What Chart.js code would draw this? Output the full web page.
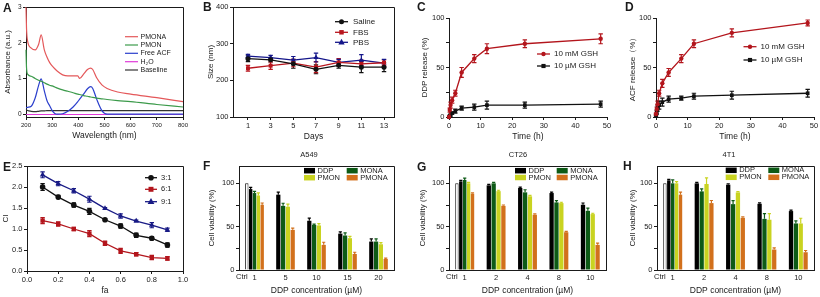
<!DOCTYPE html>
<html>
<head>
<meta charset="utf-8">
<title>Figure</title>
<script src="https://cdn.jsdelivr.net/npm/chart.js@4.4.0/dist/chart.umd.min.js"></script>
<style>
  html, body { margin: 0; padding: 0; background: #fff; }
  #fig { position: relative; width: 820px; height: 297px; overflow: hidden; background: #fff; }
  #fig canvas { position: absolute; }
</style>
</head>
<body>
<div id="fig">
  <canvas id="cA" width="200" height="148" style="left:0px;top:0px"></canvas>
  <canvas id="cB" width="205" height="148" style="left:200px;top:0px"></canvas>
  <canvas id="cC" width="210" height="148" style="left:405px;top:0px"></canvas>
  <canvas id="cD" width="210" height="148" style="left:610px;top:0px"></canvas>
  <canvas id="cE" width="200" height="149" style="left:0px;top:148px"></canvas>
  <canvas id="cF" width="205" height="149" style="left:200px;top:148px"></canvas>
  <canvas id="cG" width="205" height="149" style="left:405px;top:148px"></canvas>
  <canvas id="cH" width="210" height="149" style="left:610px;top:148px"></canvas>
</div>
<script>
// A - absorbance spectra
const wlA = [200, 202, 206, 220, 235, 248, 258, 270, 280, 290, 300, 310, 320, 340, 360, 380, 398, 405, 420, 435, 447, 455, 470, 490, 510, 550, 600, 700, 800];
const absPMONA = [3.0, 2.4, 2.05, 1.85, 1.8, 1.95, 2.22, 1.8, 1.6, 1.45, 1.35, 1.27, 1.2, 1.1, 1.07, 1.07, 1.07, 1.0, 1.12, 1.25, 1.29, 1.25, 1.02, 0.82, 0.72, 0.62, 0.56, 0.46, 0.35];
const absPMON = [1.8, 1.3, 1.12, 1.06, 1.0, 0.95, 0.92, 0.88, 0.84, 0.81, 0.79, 0.76, 0.73, 0.68, 0.64, 0.6, 0.56, 0.55, 0.52, 0.5, 0.48, 0.47, 0.45, 0.43, 0.41, 0.38, 0.35, 0.27, 0.2];
const absACF = [0.18, 0.18, 0.19, 0.22, 0.45, 0.8, 0.99, 0.65, 0.38, 0.24, 0.1, 0.02, 0.0, 0.01, 0.08, 0.2, 0.35, 0.42, 0.56, 0.71, 0.77, 0.72, 0.42, 0.1, 0.0, 0.0, 0.0, 0.0, 0.0];
const absH2O = [-0.01, -0.01, -0.01, -0.01, -0.01, -0.01, -0.01, -0.01, -0.01, -0.01, -0.01, -0.01, -0.01, -0.01, -0.01, -0.01, -0.01, -0.01, -0.01, -0.01, -0.01, -0.01, -0.01, -0.01, -0.01, -0.01, -0.01, -0.01, -0.01];
const absBase = [0.13, 0.12, 0.1, 0.08, 0.07, 0.08, 0.09, 0.09, 0.1, 0.1, 0.1, 0.1, 0.1, 0.1, 0.1, 0.1, 0.1, 0.1, 0.1, 0.1, 0.1, 0.1, 0.1, 0.1, 0.1, 0.1, 0.1, 0.1, 0.1];
const ticksAx = [200, 300, 400, 500, 600, 700, 800];
const ticksAy = [0, 1, 2, 3];

// B - size stability
const daysB = [1, 3, 5, 7, 9, 11, 13];
const sizeSaline = [259, 256, 245, 230, 241, 236, 236];
const errSaline = [8, 6, 12, 12, 8, 15, 12];
const sizeFBS = [233, 240, 247, 236, 249, 245, 248];
const errFBS = [8, 10, 10, 15, 10, 10, 8];
const sizePBS = [266, 262, 255, 262, 249, 255, 247];
const errPBS = [5, 6, 10, 12, 8, 15, 10];
const ticksBy = [100, 200, 300, 400];

// C, D - release
const timeCD = [0, 0.25, 0.5, 1, 2, 4, 8, 12, 24, 48];
const ddpHigh = [0, 7, 12, 17, 24, 45, 59, 69, 74, 79];
const errDdpHigh = [0, 2, 3, 3, 3, 5, 4, 5, 4, 5];
const ddpLow = [0, 1, 2, 4, 6, 9, 10, 12, 12, 13];
const errDdpLow = [0, 1, 1, 1, 2, 2, 3, 4, 3, 3];
const acfHigh = [3, 8, 13, 24, 34, 45, 59, 74, 85, 95];
const errAcfHigh = [1, 2, 3, 3, 4, 4, 4, 4, 4, 3];
const acfLow = [1, 5, 9, 12, 15, 18, 19, 21, 22, 24];
const errAcfLow = [1, 2, 3, 4, 4, 3, 2, 3, 4, 4];
const ticksTime = [0, 10, 20, 30, 40, 50];
const ticksPct = [0, 25, 50, 75, 100];

// E - combination index
const faE = [0.1, 0.2, 0.3, 0.4, 0.5, 0.6, 0.7, 0.8, 0.9];
const ci31 = [2.0, 1.76, 1.57, 1.42, 1.22, 1.07, 0.85, 0.78, 0.62];
const errCi31 = [0.08, 0.04, 0.05, 0.07, 0.02, 0.05, 0.05, 0.04, 0.05];
const ci61 = [1.2, 1.12, 1.0, 0.89, 0.66, 0.48, 0.4, 0.32, 0.3];
const errCi61 = [0.07, 0.05, 0.04, 0.07, 0.05, 0.06, 0.04, 0.05, 0.04];
const ci91 = [2.29, 2.08, 1.91, 1.71, 1.49, 1.31, 1.19, 1.09, 0.98];
const errCi91 = [0.07, 0.05, 0.05, 0.07, 0.02, 0.05, 0.02, 0.06, 0.04];
const ticksEx = [0, 0.2, 0.4, 0.6, 0.8, 1.0];
const ticksEy = [0, 0.5, 1.0, 1.5, 2.0, 2.5];

// F - A549 viability
const concF = ['1', '5', '10', '15', '20'];
const ctrlF = [100, null, null, null, null];
const ddpF = [93.4, 86.9, 56.8, 42, 32.8];
const errDdpF = [2, 3, 3, 2, 3];
const monaF = [88.8, 74, 52, 39.8, 32.8];
const errMonaF = [2, 3, 1, 3, 3];
const pmonF = [86, 73, 51.4, 36.7, 29.7];
const errPmonF = [3, 3, 2, 2, 2];
const pmonaF = [75.3, 46.3, 29, 18.5, 12.7];
const errPmonaF = [2, 2, 3, 2, 1];

// G - CT26 viability
const concG = ['1', '2', '4', '8', '10'];
const ctrlG = [100, null, null, null, null];
const ddpG = [102.3, 97.7, 94.6, 88.8, 75.3];
const errDdpG = [1, 1, 1, 1, 2];
const monaG = [103.9, 100, 89.6, 78, 68.3];
const errMonaG = [2, 1, 3, 2, 3];
const pmonG = [100, 91, 85, 77.2, 64.5];
const errPmonG = [1, 1, 1, 1, 1];
const pmonaG = [88, 74, 63.7, 43.6, 29];
const errPmonaG = [1, 1, 1, 1, 2];

// H - 4T1 viability
const concH = ['1', '2', '4', '8', '10'];
const ctrlH = [100, null, null, null, null];
const ddpH = [103.5, 100, 98.5, 76.4, 68];
const errDdpH = [1, 1, 1, 1, 1];
const monaH = [100, 90.7, 76, 59, 53.7];
const errMonaH = [4, 3, 4, 6, 3];
const pmonH = [100, 99.2, 89.6, 58, 53.7];
const errPmonH = [2, 7, 1, 7, 6];
const pmonaH = [86.9, 77.2, 60.2, 23.6, 20.5];
const errPmonaH = [3, 3, 1, 2, 2];
const ticksViab = [0, 25, 50, 75, 100];

const FONT = 'Arial, "Liberation Sans", Helvetica, sans-serif';
const INK = '#1a1a1a';
const C_DDP = '#000000', C_MONA = '#0d5a16', C_PMON = '#c9d320', C_PMONA = '#d2701c';

Chart.defaults.font.family = FONT;
Chart.defaults.color = INK;
Chart.defaults.animation = false;
Chart.defaults.events = [];
Chart.defaults.plugins.legend.display = false;
Chart.defaults.plugins.tooltip.enabled = false;

// extra drawing per canvas: frame box, legends, letters, error bars
const EXTRA = {};

function al(v) { return Math.round(v - 0.5) + 0.5; }

function drawMark(ctx, style, x, y, r) {
  ctx.beginPath();
  if (style === 'rect') {
    const s = r * 0.8;
    ctx.rect(x - s, y - s, 2 * s, 2 * s);
  } else if (style === 'triangle') {
    ctx.moveTo(x, y - r * 1.15);
    ctx.lineTo(x + r * 1.05, y + r * 0.7);
    ctx.lineTo(x - r * 1.05, y + r * 0.7);
    ctx.closePath();
  } else {
    ctx.arc(x, y, r, 0, Math.PI * 2);
  }
  ctx.fill();
}

const extras = {
  id: 'extras',
  beforeDatasetsDraw(chart) {
    const ctx = chart.ctx, ys = chart.scales.y;
    chart.data.datasets.forEach((ds, i) => {
      if (!ds.err) return;
      const meta = chart.getDatasetMeta(i);
      ctx.save();
      ctx.strokeStyle = ds.borderColor;
      ctx.lineWidth = 1.2;
      meta.data.forEach((el, j) => {
        const raw = ds.data[j];
        const v = raw !== null && typeof raw === 'object' ? raw.y : raw;
        const e = ds.err[j];
        if (v === null || v === undefined || !e) return;
        const cw = ds.capW || 2.2;
        const top = ys.getPixelForValue(v + e);
        const bot = ds.upOnly ? ys.getPixelForValue(v) : ys.getPixelForValue(v - e);
        ctx.beginPath();
        ctx.moveTo(el.x, top); ctx.lineTo(el.x, bot);
        ctx.moveTo(el.x - cw, top); ctx.lineTo(el.x + cw, top);
        if (!ds.upOnly) { ctx.moveTo(el.x - cw, bot); ctx.lineTo(el.x + cw, bot); }
        ctx.stroke();
      });
      ctx.restore();
    });
  },
  afterDraw(chart) {
    const e = EXTRA[chart.canvas.id];
    if (!e) return;
    const ctx = chart.ctx, a = chart.chartArea;
    ctx.save();
    if (e.box) {
      ctx.strokeStyle = INK; ctx.lineWidth = 1;
      ctx.beginPath();
      ctx.moveTo(al(a.left), al(a.top));
      ctx.lineTo(al(a.right), al(a.top));
      ctx.lineTo(al(a.right), al(a.bottom));
      ctx.stroke();
    }
    if (e.leg) {
      const L = e.leg;
      L.items.forEach(it => {
        const ds = chart.data.datasets[it.ds];
        const x = it.x - e.ox, y = it.y - e.oy;
        let tx;
        if (L.kind === 'bar') {
          ctx.fillStyle = ds.backgroundColor;
          ctx.fillRect(x, y - L.bh / 2, L.bw, L.bh);
          tx = x + L.bw + L.gap;
        } else {
          ctx.strokeStyle = ds.borderColor; ctx.lineWidth = ds.borderWidth;
          ctx.beginPath(); ctx.moveTo(x, y); ctx.lineTo(x + L.seg, y); ctx.stroke();
          if (ds.pointRadius) {
            ctx.fillStyle = ds.borderColor;
            drawMark(ctx, ds.pointStyle, x + L.seg / 2, y, ds.pointRadius);
          }
          tx = x + L.seg + L.gap;
        }
        ctx.fillStyle = INK;
        ctx.font = L.fs + 'px ' + FONT;
        ctx.textAlign = 'left'; ctx.textBaseline = 'middle';
        ctx.fillText(ds.label, tx, y);
      });
    }
    if (e.ctrl) {
      const el = chart.getDatasetMeta(0).data[0];
      ctx.fillStyle = INK;
      ctx.font = '7.5px ' + FONT;
      ctx.textAlign = 'center'; ctx.textBaseline = 'middle';
      ctx.fillText('Ctrl', el.x - 5, a.bottom + 7);
    }
    (e.texts || []).forEach(t => {
      ctx.fillStyle = INK;
      ctx.font = (t.bold ? 'bold ' : '') + t.fs + 'px ' + FONT;
      ctx.textAlign = t.align || 'left'; ctx.textBaseline = 'middle';
      ctx.fillText(t.t, t.x - e.ox, t.y - e.oy);
    });
    ctx.restore();
  }
};
Chart.register(extras);

// canvas rect [left, top, w, h] and plot box [x0, y0, x1, y1], both in page pixels
function frame(cv, box) {
  return {
    layout: {padding: {left: 0, top: box[1] - cv[1], right: cv[0] + cv[2] - box[2], bottom: 0}},
    yw: box[0] - cv[0],
    xh: cv[1] + cv[3] - box[3]
  };
}

function lin(f, horiz, o) {
  return {
    type: 'linear', min: o.min, max: o.max,
    afterBuildTicks: s => { s.ticks = o.ticks.map(v => ({value: v})); },
    afterFit: s => { if (horiz) s.height = f.xh; else s.width = f.yw; },
    grid: {drawOnChartArea: false, drawTicks: true, tickLength: 3, color: INK, lineWidth: 1},
    border: {display: true, color: INK, width: 1},
    ticks: {font: {size: o.fs || 7.5}, color: INK, padding: 1.5, maxRotation: 0, autoSkip: false,
            callback: o.fmt || (v => v)},
    title: {display: true, text: o.title, color: INK, font: {size: horiz ? 8.5 : 8},
            padding: horiz ? {top: 0, bottom: o.tp} : {top: o.tp, bottom: 0}}
  };
}

function pts(xs, ys) { return xs.map((x, i) => ({x: x, y: ys[i]})); }

function lineDs(label, xs, ys, err, color, style, r, bw) {
  return {
    label: label, data: pts(xs, ys), err: err,
    borderColor: color, backgroundColor: color,
    pointBackgroundColor: color, pointBorderColor: color, pointBorderWidth: 0,
    pointStyle: style, pointRadius: r, borderWidth: bw || 1.3, clip: false, tension: 0
  };
}

function lineChart(id, cv, box, datasets, xo, yo) {
  const f = frame(cv, box);
  return new Chart(document.getElementById(id), {
    type: 'line',
    data: {datasets: datasets},
    options: {
      responsive: false,
      layout: f.layout,
      scales: {x: lin(f, true, xo), y: lin(f, false, yo)}
    }
  });
}

function barDs(label, data, err, color) {
  return {label: label, data: data, err: err, upOnly: true, capW: 1.6,
          backgroundColor: color, borderColor: color, borderWidth: 0,
          skipNull: true, categoryPercentage: 0.62, barPercentage: 0.88};
}

function barChart(id, cv, box, labels, datasets, ytp) {
  const f = frame(cv, box);
  return new Chart(document.getElementById(id), {
    type: 'bar',
    data: {labels: labels, datasets: datasets},
    options: {
      responsive: false,
      skipNull: true,
      layout: f.layout,
      scales: {
        x: {
          type: 'category', offset: true,
          afterFit: s => { s.height = f.xh; },
          grid: {display: false, drawTicks: false},
          border: {display: true, color: INK, width: 1},
          ticks: {font: {size: 7.5}, color: INK, padding: 3, maxRotation: 0, autoSkip: false},
          title: {display: true, text: 'DDP concentration (µM)', color: INK, font: {size: 8.5},
                  padding: {top: 0, bottom: 1.2}}
        },
        y: lin(f, false, {min: 0, max: 120, ticks: ticksViab, fmt: v => (v % 50 === 0 ? v : ''),
                          title: 'Cell viability (%)', tp: ytp})
      }
    }
  });
}

function ctrlDs(data) {
  return {label: 'Ctrl', data: data, backgroundColor: '#ffffff', borderColor: INK, borderWidth: 1,
          skipNull: true, categoryPercentage: 0.62, barPercentage: 0.88};
}

function rows(x, ys) { return ys.map((y, i) => ({ds: i, x: x, y: y})); }

// ---- A ----
EXTRA.cA = {ox: 0, oy: 0, box: true,
  leg: {kind: 'line', seg: 13, gap: 2.5, fs: 7, items: rows(125, [36.7, 45, 53.3, 61.7, 70])},
  texts: [{t: 'A', x: 3, y: 9, fs: 12, bold: true}]};
lineChart('cA', [0, 0, 200, 148], [26, 7, 183, 117], [
  Object.assign(lineDs('PMONA', wlA, absPMONA, null, '#e4585a', 'circle', 0, 1.2), {cubicInterpolationMode: 'monotone'}),
  Object.assign(lineDs('PMON', wlA, absPMON, null, '#3b9a4a', 'circle', 0, 1.2), {cubicInterpolationMode: 'monotone'}),
  Object.assign(lineDs('Free ACF', wlA, absACF, null, '#2b3fcc', 'circle', 0, 1.2), {cubicInterpolationMode: 'monotone'}),
  Object.assign(lineDs('H₂O', wlA, absH2O, null, '#e03ad9', 'circle', 0, 1.2), {cubicInterpolationMode: 'monotone'}),
  Object.assign(lineDs('Baseline', wlA, absBase, null, '#333333', 'circle', 0, 1.2), {cubicInterpolationMode: 'monotone'})
], {min: 200, max: 800, ticks: ticksAx, fs: 6, title: 'Wavelength (nm)', tp: 6.9},
   {min: -0.08, max: 3, ticks: ticksAy, fs: 6.5, title: 'Absorbance (a.u.)', tp: 3.2});

// ---- B ----
EXTRA.cB = {ox: 200, oy: 0, box: true,
  leg: {kind: 'line', seg: 13, gap: 5, fs: 8, items: rows(335, [21.7, 32.3, 42.3])},
  texts: [{t: 'B', x: 203, y: 7.5, fs: 12, bold: true}]};
lineChart('cB', [200, 0, 205, 148], [233, 7, 394, 117], [
  lineDs('Saline', daysB, sizeSaline, errSaline, '#111111', 'circle', 2.5),
  lineDs('FBS', daysB, sizeFBS, errFBS, '#b8151d', 'rect', 2.8),
  lineDs('PBS', daysB, sizePBS, errPBS, '#14168a', 'triangle', 3)
], {min: -0.32, max: 13.88, ticks: daysB, fs: 7.5, title: 'Days', tp: 5.9},
   {min: 100, max: 400, ticks: ticksBy, fs: 7.5, title: 'Size (nm)', tp: 6.2});

// ---- C ----
EXTRA.cC = {ox: 405, oy: 0, box: false,
  leg: {kind: 'line', seg: 13, gap: 4, fs: 8, items: rows(537, [54, 66])},
  texts: [{t: 'C', x: 417, y: 8, fs: 12, bold: true}]};
lineChart('cC', [405, 0, 210, 148], [449, 18, 607, 117], [
  lineDs('10 mM GSH', timeCD, ddpHigh, errDdpHigh, '#b3151c', 'circle', 2.2),
  lineDs('10 µM GSH', timeCD, ddpLow, errDdpLow, '#111111', 'rect', 2.6)
], {min: 0, max: 50, ticks: ticksTime, fs: 7.5, title: 'Time (h)', tp: 5.9},
   {min: 0, max: 100, ticks: ticksPct, fs: 7.5, fmt: v => (v % 50 === 0 ? v : ''), title: 'DDP release (%)', tp: 15.2});

// ---- D ----
EXTRA.cD = {ox: 610, oy: 0, box: false,
  leg: {kind: 'line', seg: 13, gap: 4, fs: 8, items: rows(743.5, [46.7, 60])},
  texts: [{t: 'D', x: 625, y: 8, fs: 12, bold: true}]};
lineChart('cD', [610, 0, 210, 148], [656, 18, 814, 117], [
  lineDs('10 mM GSH', timeCD, acfHigh, errAcfHigh, '#b3151c', 'circle', 2.2),
  lineDs('10 µM GSH', timeCD, acfLow, errAcfLow, '#111111', 'rect', 2.6)
], {min: 0, max: 50, ticks: ticksTime, fs: 7.5, title: 'Time (h)', tp: 5.9},
   {min: 0, max: 100, ticks: ticksPct, fs: 7.5, fmt: v => (v % 50 === 0 ? v : ''), title: 'ACF release（%）', tp: 18.2});

// ---- E ----
EXTRA.cE = {ox: 0, oy: 148, box: true,
  leg: {kind: 'line', seg: 12, gap: 4, fs: 7.5, items: rows(145, [177.7, 189.3, 201.7])},
  texts: [{t: 'E', x: 3, y: 168, fs: 12, bold: true}]};
lineChart('cE', [0, 148, 200, 149], [27, 166, 183, 271], [
  lineDs('3:1', faE, ci31, errCi31, '#111111', 'circle', 2.8),
  lineDs('6:1', faE, ci61, errCi61, '#b3151c', 'rect', 3.1),
  lineDs('9:1', faE, ci91, errCi91, '#181a85', 'triangle', 3.2)
], {min: 0, max: 1, ticks: ticksEx, fs: 7.5, fmt: v => Number(v).toFixed(1), title: 'fa', tp: 0.9},
   {min: 0, max: 2.5, ticks: ticksEy, fs: 7.5, fmt: v => Number(v).toFixed(1), title: 'CI', tp: 1.2});

// ---- F, G, H ----
function barLeg(x0, x1, y0, y1) {
  return {kind: 'bar', bw: 11, bh: 5.5, gap: 2.5, fs: 7.5,
          items: [{ds: 1, x: x0, y: y0}, {ds: 2, x: x1, y: y0}, {ds: 3, x: x0, y: y1}, {ds: 4, x: x1, y: y1}]};
}

EXTRA.cF = {ox: 200, oy: 148, box: true, ctrl: true, leg: barLeg(304, 346.7, 170.7, 177.7),
  texts: [{t: 'F', x: 203, y: 167, fs: 12, bold: true}, {t: 'A549', x: 309, y: 155, fs: 7.5, align: 'center'}]};
barChart('cF', [200, 148, 205, 149], [239, 166, 394, 270], concF, [
  ctrlDs(ctrlF),
  barDs('DDP', ddpF, errDdpF, C_DDP),
  barDs('MONA', monaF, errMonaF, C_MONA),
  barDs('PMON', pmonF, errPmonF, C_PMON),
  barDs('PMONA', pmonaF, errPmonaF, C_PMONA)
], 7.2);

EXTRA.cG = {ox: 405, oy: 148, box: true, ctrl: true, leg: barLeg(515, 556.7, 170.7, 177.5),
  texts: [{t: 'G', x: 417, y: 168, fs: 12, bold: true}, {t: 'CT26', x: 518, y: 155, fs: 7.5, align: 'center'}]};
barChart('cG', [405, 148, 205, 149], [449, 166, 606, 270], concG, [
  ctrlDs(ctrlG),
  barDs('DDP', ddpG, errDdpG, C_DDP),
  barDs('MONA', monaG, errMonaG, C_MONA),
  barDs('PMON', pmonG, errPmonG, C_PMON),
  barDs('PMONA', pmonaG, errPmonaG, C_PMONA)
], 13.2);

EXTRA.cH = {ox: 610, oy: 148, box: true, ctrl: true, leg: barLeg(725.7, 768.3, 170.3, 177.3),
  texts: [{t: 'H', x: 623, y: 167, fs: 12, bold: true}, {t: '4T1', x: 729, y: 155, fs: 7.5, align: 'center'}]};
barChart('cH', [610, 148, 210, 149], [657, 166, 814, 270], concH, [
  ctrlDs(ctrlH),
  barDs('DDP', ddpH, errDdpH, C_DDP),
  barDs('MONA', monaH, errMonaH, C_MONA),
  barDs('PMON', pmonH, errPmonH, C_PMON),
  barDs('PMONA', pmonaH, errPmonaH, C_PMONA)
], 18.2);
</script>
</body>
</html>
